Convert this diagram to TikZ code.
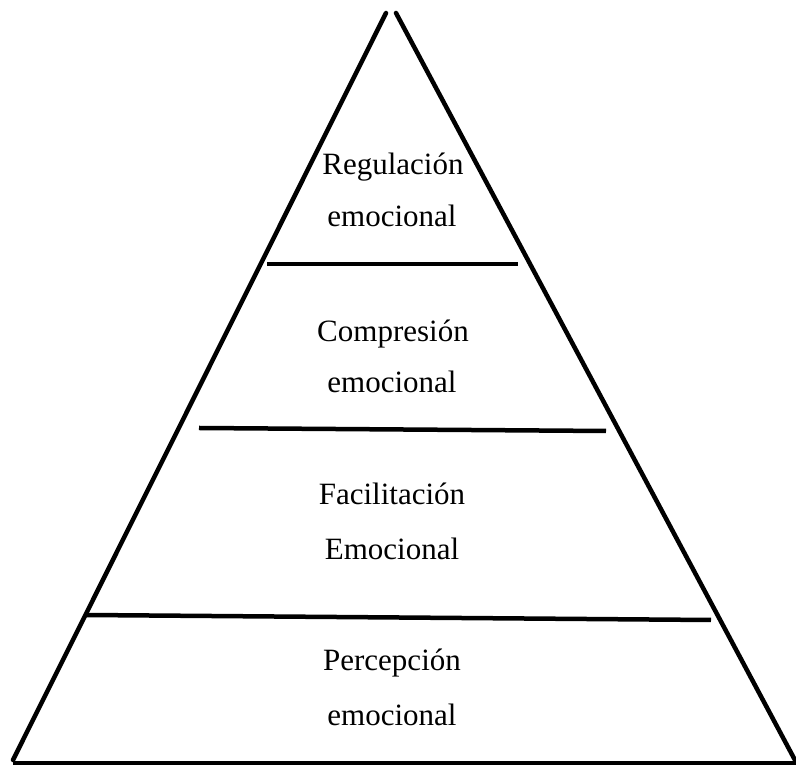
\documentclass[tikz,border=0pt]{standalone}
\usepackage{fontspec}
\setmainfont{Liberation Serif}
\begin{document}
\begin{tikzpicture}[x=1pt,y=1pt,
  edge/.style={line width=4.5pt,line cap=round},
  bar/.style={line width=4.5pt},
  lbl/.style={anchor=base,inner sep=0pt,font=\fontsize{31}{40}\selectfont}]
\useasboundingbox (0,0) rectangle (796,768);
% triangle sides
\coordinate (topL) at (386,755);
\coordinate (topR) at (396,755);
\coordinate (botL) at (13,8);
\coordinate (botR) at (796,6);
\coordinate (baseL) at (13,5);
\coordinate (baseR) at (796,5);
\draw[edge] (topL) -- (botL);
\draw[edge] (topR) -- (botR);
\draw[bar] (baseL) -- (baseR);
% horizontal dividers
\coordinate (d1a) at (267,504);
\coordinate (d1b) at (518,504);
\coordinate (d2a) at (199,340);
\coordinate (d2b) at (606,337);
\coordinate (d3a) at (86,153);
\coordinate (d3b) at (711,148);
\draw[bar] (d1a) -- (d1b);
\draw[bar] (d2a) -- (d2b);
\draw[bar] (d3a) -- (d3b);
% labels
\node[lbl] (t1a) at (393,593) {Regulación};
\node[lbl] (t1b) at (392,541) {emocional};
\node[lbl] (t2a) at (393,426) {Compresión};
\node[lbl] (t2b) at (392,375) {emocional};
\node[lbl] (t3a) at (392,263) {Facilitación};
\node[lbl] (t3b) at (392,208) {Emocional};
\node[lbl] (t4a) at (392,97) {Percepción};
\node[lbl] (t4b) at (392,42) {emocional};
\end{tikzpicture}
\end{document}
